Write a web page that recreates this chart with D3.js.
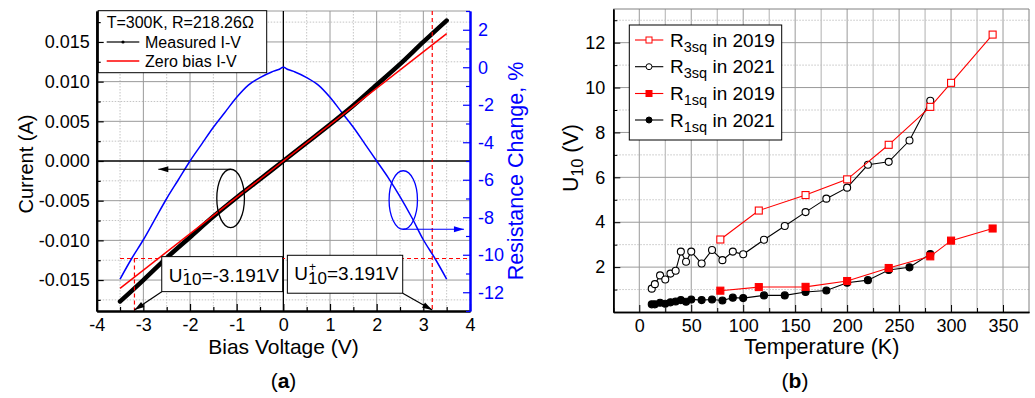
<!DOCTYPE html>
<html><head><meta charset="utf-8">
<script src="https://cdn.jsdelivr.net/npm/d3@7"></script>
<style>
body{margin:0;background:#fff}
svg{display:block}
text{font-family:"Liberation Sans",Arial,sans-serif}
</style>
</head><body>
<svg id="c" width="1035" height="398"></svg>
<script>
// ---------- Panel (a) data ----------
const biasV = [-3.5,-3.25,-3.0,-2.75,-2.5,-2.25,-2.0,-1.75,-1.5,-1.25,-1.0,-0.75,-0.5,-0.25,-0.1,0,0.1,0.25,0.5,0.75,1.0,1.25,1.5,1.75,2.0,2.25,2.5,2.75,3.0,3.25,3.5];
const resChange = [-11.3,-10.2,-9.2,-8.1,-7.0,-6.0,-5.0,-4.1,-3.2,-2.4,-1.6,-0.95,-0.55,-0.25,-0.12,0,-0.12,-0.25,-0.55,-0.95,-1.6,-2.4,-3.2,-4.1,-5.0,-5.9,-6.9,-8.0,-9.2,-10.2,-11.3];
const measV = [-3.5,-3.0,-2.5,-2.0,-1.5,-1.0,-0.5,0,0.5,1.0,1.5,2.0,2.5,3.0,3.5];
const measI = [-0.0177,-0.0150,-0.0122,-0.0096,-0.0070,-0.0046,-0.0023,0,0.0023,0.0046,0.0070,0.0096,0.0122,0.0150,0.0177];
const zeroBiasV = [-3.5,3.5];
const zeroBiasI = [-0.01604,0.01604];
const u10Minus = -3.191, u10Plus = 3.191, u10Level = -10.2;
const leftXTicks = [-4,-3,-2,-1,0,1,2,3,4];
const leftYTicks = [-0.015,-0.010,-0.005,0,0.005,0.010,0.015];
const leftYLabels = ["-0.015","-0.010","-0.005","0.000","0.005","0.010","0.015"];
const rightYTicks = [-12,-10,-8,-6,-4,-2,0,2];

// ---------- Panel (b) data ----------
const t3sq2019 = [78,115,160,200,240,280,300,340];
const u3sq2019 = [3.23,4.52,5.21,5.91,7.45,9.14,10.21,12.36];
const t3sq2021 = [12,15,20,25,30,35,40,45,50,60,70,80,90,100,120,140,160,180,200,220,240,260,280];
const u3sq2021 = [1.04,1.24,1.63,1.45,1.71,1.84,2.69,2.24,2.69,2.16,2.76,2.31,2.69,2.57,3.22,3.83,4.45,5.05,5.54,6.56,6.69,7.64,9.41];
const t1sq2019 = [78,115,160,200,240,280,300,340];
const u1sq2019 = [0.95,1.11,1.12,1.38,1.96,2.48,3.18,3.72];
const t1sq2021 = [12,15,20,25,30,35,40,45,50,60,70,80,90,100,120,140,160,180,200,220,240,260,280];
const u1sq2021 = [0.34,0.34,0.41,0.37,0.43,0.47,0.53,0.46,0.56,0.53,0.56,0.51,0.64,0.62,0.74,0.74,0.89,0.96,1.30,1.42,1.87,1.99,2.58];
const tempTicks = [0,50,100,150,200,250,300,350];
const u10Ticks = [2,4,6,8,10,12];

const svg = d3.select('#c');
const RED = '#ff0000', BLUE = '#0000ff';
const hy = d => String(d).replace('\u2212','-');

function arrow(g, x1, y1, x2, y2, color){
  g.append('line').attr('x1',x1).attr('y1',y1).attr('x2',x2).attr('y2',y2)
    .attr('stroke',color).attr('stroke-width',1.2);
  const a = Math.atan2(y2-y1, x2-x1), L = 10, W = 3;
  const bx = x2 - L*Math.cos(a), by = y2 - L*Math.sin(a);
  const px = -Math.sin(a)*W, py = Math.cos(a)*W;
  g.append('path').attr('d',`M${x2},${y2}L${bx+px},${by+py}L${bx-px},${by-py}Z`).attr('fill',color);
}

// ================= Panel (a) =================
const xL = d3.scaleLinear().domain([-4,4]).range([96.7,470]);
const yL = d3.scaleLinear().domain([-0.0189,0.0189]).range([311,11]);
const yR = d3.scaleLinear().domain([-13,3]).range([311,11]);
const gA = svg.append('g');

// grid
const vMinor = leftXTicks.slice(0,-1).map(v=>v+0.5);
const hMinor = [leftYTicks[0]-0.0025].concat(leftYTicks.map(v=>v+0.0025));
gA.selectAll('.vmn').data(vMinor).join('line').attr('x1',d=>xL(d)).attr('x2',d=>xL(d)).attr('y1',11).attr('y2',311)
  .attr('stroke','#c4c4c4').attr('stroke-dasharray','1.5,1.5');
gA.selectAll('.hmn').data(hMinor).join('line').attr('y1',d=>yL(d)).attr('y2',d=>yL(d)).attr('x1',96.7).attr('x2',470)
  .attr('stroke','#c4c4c4').attr('stroke-dasharray','1.5,1.5');
gA.selectAll('.vmj').data(leftXTicks.filter(v=>v!==0 && Math.abs(v)<4)).join('line').attr('x1',d=>xL(d)).attr('x2',d=>xL(d)).attr('y1',11).attr('y2',311)
  .attr('stroke','#9a9a9a');
gA.selectAll('.hmj').data(leftYTicks.filter(v=>v!==0)).join('line').attr('y1',d=>yL(d)).attr('y2',d=>yL(d)).attr('x1',96.7).attr('x2',470)
  .attr('stroke','#9a9a9a');
gA.append('line').attr('x1',96.7).attr('x2',470).attr('y1',11).attr('y2',11).attr('stroke','#9a9a9a');
// zero lines
gA.append('line').attr('x1',xL(0)).attr('x2',xL(0)).attr('y1',11).attr('y2',311).attr('stroke','#000').attr('stroke-width',1.3);
gA.append('line').attr('x1',96.7).attr('x2',470).attr('y1',yL(0)).attr('y2',yL(0)).attr('stroke','#000').attr('stroke-width',1.3);

// blue resistance curve
gA.append('path').datum(biasV.map((v,i)=>[v,resChange[i]]))
  .attr('d',d3.line().x(d=>xL(d[0])).y(d=>yR(d[1])).curve(d3.curveMonotoneX))
  .attr('fill','none').attr('stroke',BLUE).attr('stroke-width',1.5);
// measured
gA.append('path').datum(measV.map((v,i)=>[v,measI[i]]))
  .attr('d',d3.line().x(d=>xL(d[0])).y(d=>yL(d[1])).curve(d3.curveMonotoneX))
  .attr('fill','none').attr('stroke','#000').attr('stroke-width',4.5).attr('stroke-linecap','round');
// zero bias
gA.append('path').datum(zeroBiasV.map((v,i)=>[v,zeroBiasI[i]]))
  .attr('d',d3.line().x(d=>xL(d[0])).y(d=>yL(d[1])))
  .attr('fill','none').attr('stroke',RED).attr('stroke-width',1.5);

// dashed U10 lines
gA.append('line').attr('x1',xL(u10Plus)).attr('x2',xL(u10Plus)).attr('y1',11).attr('y2',311)
  .attr('stroke',RED).attr('stroke-width',1.2).attr('stroke-dasharray','4,3');
gA.append('line').attr('x1',xL(u10Minus)).attr('x2',xL(u10Minus)).attr('y1',yR(u10Level)).attr('y2',311)
  .attr('stroke',RED).attr('stroke-width',1.2).attr('stroke-dasharray','4,3');
gA.append('line').attr('x1',xL(-3.5)).attr('x2',470).attr('y1',yR(u10Level)).attr('y2',yR(u10Level))
  .attr('stroke',RED).attr('stroke-width',1.2).attr('stroke-dasharray','4,3');

// ellipse + arrow annotations
const e1 = {v:-1.13, i:-0.00472, rv:0.296, ri:0.00368};
gA.append('ellipse').attr('cx',xL(e1.v)).attr('cy',yL(e1.i)).attr('rx',xL(e1.v+e1.rv)-xL(e1.v)).attr('ry',yL(e1.i)-yL(e1.i+e1.ri))
  .attr('fill','none').attr('stroke','#000').attr('stroke-width',1.3);
arrow(gA, xL(e1.v), yL(e1.i+e1.ri), xL(-2.68), yL(e1.i+e1.ri), '#000');
const e2 = {v:2.57, p:-7.08, rv:0.304, rp:1.56};
gA.append('ellipse').attr('cx',xL(e2.v)).attr('cy',yR(e2.p)).attr('rx',xL(e2.v+e2.rv)-xL(e2.v)).attr('ry',yR(e2.p)-yR(e2.p+e2.rp))
  .attr('fill','none').attr('stroke',BLUE).attr('stroke-width',1.3);
arrow(gA, xL(e2.v), yR(e2.p-e2.rp), xL(3.87), yR(e2.p-e2.rp), BLUE);

// U10 boxes
function drawBox(bx0,bx1,by0,by1,sup,rest,arrowFrom,tipX){
  gA.append('rect').attr('x',bx0).attr('y',by0).attr('width',bx1-bx0).attr('height',by1-by0)
    .attr('fill','#fff').attr('stroke','#000').attr('stroke-width',1);
  const tx = bx0+7, ty = by0+25;
  const u = gA.append('text').attr('x',tx).attr('y',ty).attr('font-size',19).text('U');
  const w = u.node().getComputedTextLength();
  gA.append('text').attr('x',tx+w+1).attr('y',ty-9).attr('font-size',12).text(sup);
  const s = gA.append('text').attr('x',tx+w).attr('y',ty+3.5).attr('font-size',17).text('10');
  const ws = s.node().getComputedTextLength();
  gA.append('text').attr('x',tx+w+ws).attr('y',ty).attr('font-size',19).text(rest);
  arrow(gA, arrowFrom, by1, tipX, 310, '#000');
}
drawBox(xL(-2.606), xL(-0.015), yL(-0.01205), yL(-0.01646), '-', '=-3.191V', xL(-2.606), xL(u10Minus));
drawBox(xL(0.086), xL(2.558), yL(-0.01188), yL(-0.01666), '+', '=3.191V', xL(2.558), xL(u10Plus));

// legend (a)
gA.append('rect').attr('x',98.3).attr('y',10.7).attr('width',168.4).attr('height',62).attr('fill','#fff').attr('stroke','#000').attr('stroke-width',1);
gA.append('text').attr('x',106.7).attr('y',28.3).attr('font-size',16).text('T=300K, R=218.26Ω');
gA.append('line').attr('x1',106.7).attr('x2',139.3).attr('y1',42).attr('y2',42).attr('stroke','#333').attr('stroke-width',1.3);
gA.append('circle').attr('cx',123).attr('cy',42).attr('r',1.6).attr('fill','#000');
gA.append('text').attr('x',145).attr('y',47.7).attr('font-size',16).text('Measured I-V');
gA.append('line').attr('x1',106.7).attr('x2',139.3).attr('y1',61).attr('y2',61).attr('stroke',RED).attr('stroke-width',1.5);
gA.append('text').attr('x',145).attr('y',66.7).attr('font-size',16).text('Zero bias I-V');

// axes (a)
const axL = gA.append('g').attr('transform','translate(96.7,0)')
  .call(d3.axisLeft(yL).tickValues(leftYTicks).tickFormat((d,i)=>leftYLabels[i]).tickSize(-7).tickSizeOuter(0).tickPadding(7));
gA.append('g').attr('transform','translate(96.7,0)')
  .call(d3.axisLeft(yL).tickValues(hMinor).tickFormat('').tickSize(-4).tickSizeOuter(0));
const axB = gA.append('g').attr('transform','translate(0,311)')
  .call(d3.axisBottom(xL).tickValues(leftXTicks).tickFormat(hy).tickSize(-7).tickSizeOuter(0).tickPadding(7));
gA.append('g').attr('transform','translate(0,311)')
  .call(d3.axisBottom(xL).tickValues(vMinor).tickFormat('').tickSize(-4).tickSizeOuter(0));
const axR = gA.append('g').attr('class','raxis').attr('transform','translate(470,0)')
  .call(d3.axisRight(yR).tickValues(rightYTicks).tickFormat(hy).tickSize(-7).tickSizeOuter(0).tickPadding(8));
const axR2 = gA.append('g').attr('class','raxis').attr('transform','translate(470,0)')
  .call(d3.axisRight(yR).tickValues(rightYTicks.map(v=>v+1).concat([-13])).tickFormat('').tickSize(-4).tickSizeOuter(0));
gA.selectAll('.domain').attr('stroke-width',2);
[axL,axB].forEach(a=>{a.selectAll('text').attr('font-size',18).attr('fill','#000').attr('font-family','Liberation Sans, Arial, sans-serif');});
axR.selectAll('text').attr('font-size',18).attr('fill',BLUE).attr('font-family','Liberation Sans, Arial, sans-serif');
gA.selectAll('.tick line').attr('stroke-width',1.2);
gA.selectAll('.raxis').selectAll('line,path').attr('stroke',BLUE);

gA.append('text').attr('transform','translate(33,164) rotate(-90)').attr('text-anchor','middle').attr('font-size',20).text('Current (A)');
gA.append('text').attr('x',283.5).attr('y',354).attr('text-anchor','middle').attr('font-size',21).text('Bias Voltage (V)');
gA.append('text').attr('transform','translate(523,171) rotate(-90)').attr('text-anchor','middle').attr('font-size',21.5).attr('fill',BLUE).text('Resistance Change, %');
const la = gA.append('text').attr('x',283.5).attr('y',388).attr('text-anchor','middle').attr('font-size',21).attr('font-family','Liberation Serif, serif');
la.append('tspan').text('(');
la.append('tspan').attr('font-weight','bold').text('a');
la.append('tspan').text(')');

// ================= Panel (b) =================
const xT = d3.scaleLinear().domain([-25,375]).range([613.3,1029]);
const yU = d3.scaleLinear().domain([0,13.5]).range([312,9]);
const gB = svg.append('g');
const tGrid = d3.range(0,351,25);
const uMinor = [1,3,5,7,9,11,13];
gB.selectAll('.vg').data(tGrid).join('line').attr('x1',d=>xT(d)).attr('x2',d=>xT(d)).attr('y1',9).attr('y2',312)
  .attr('stroke',d=>d%50===0?'#9a9a9a':'#b0b0b0');
gB.selectAll('.hmn').data(uMinor).join('line').attr('y1',d=>yU(d)).attr('y2',d=>yU(d)).attr('x1',613.3).attr('x2',1029)
  .attr('stroke','#c4c4c4').attr('stroke-dasharray','1.5,1.5');
gB.selectAll('.hmj').data(u10Ticks).join('line').attr('y1',d=>yU(d)).attr('y2',d=>yU(d)).attr('x1',613.3).attr('x2',1029)
  .attr('stroke','#9a9a9a');
gB.append('line').attr('x1',613.3).attr('x2',1029).attr('y1',9).attr('y2',9).attr('stroke','#808080');
gB.append('line').attr('x1',1029).attr('x2',1029).attr('y1',9).attr('y2',312).attr('stroke','#808080');

function series(ts, us, color, shape, filled){
  gB.append('path').datum(ts.map((t,i)=>[t,us[i]]))
    .attr('d',d3.line().x(d=>xT(d[0])).y(d=>yU(d[1])))
    .attr('fill','none').attr('stroke',color).attr('stroke-width',1.1);
  const pts = ts.map((t,i)=>[t,us[i]]);
  if(shape==='sq'){
    gB.selectAll(null).data(pts).join('rect').attr('x',d=>xT(d[0])-3.5).attr('y',d=>yU(d[1])-3.5).attr('width',7).attr('height',7)
      .attr('fill',filled?color:'#fff').attr('stroke',color).attr('stroke-width',1.1);
  } else {
    gB.selectAll(null).data(pts).join('circle').attr('cx',d=>xT(d[0])).attr('cy',d=>yU(d[1])).attr('r',3.5)
      .attr('fill',filled?color:'#fff').attr('stroke',color).attr('stroke-width',1.1);
  }
}
series(t3sq2021,u3sq2021,'#000','ci',false);
series(t3sq2019,u3sq2019,RED,'sq',false);
series(t1sq2021,u1sq2021,'#000','ci',true);
series(t1sq2019,u1sq2019,RED,'sq',true);

// axes (b)
const bL = gB.append('g').attr('transform','translate(613.3,0)')
  .call(d3.axisLeft(yU).tickValues(u10Ticks).tickSize(-7).tickSizeOuter(0).tickPadding(8));
gB.append('g').attr('transform','translate(613.3,0)')
  .call(d3.axisLeft(yU).tickValues(uMinor).tickFormat('').tickSize(-4).tickSizeOuter(0));
const bB = gB.append('g').attr('transform','translate(0,312)')
  .call(d3.axisBottom(xT).tickValues(tempTicks).tickSize(-7).tickSizeOuter(0).tickPadding(7));
gB.append('g').attr('transform','translate(0,312)')
  .call(d3.axisBottom(xT).tickValues(tempTicks.map(v=>v+25).slice(0,-1).concat([-25+0.001])).tickFormat('').tickSize(-4).tickSizeOuter(0));
gB.selectAll('.domain').attr('stroke-width',1.6);
[bL,bB].forEach(a=>a.selectAll('text').attr('font-size',18).attr('fill','#000').attr('font-family','Liberation Sans, Arial, sans-serif'));

const ut = gB.append('text').attr('transform','translate(578,158) rotate(-90)').attr('text-anchor','middle').attr('font-size',21.5);
ut.append('tspan').text('U');
ut.append('tspan').attr('dy',5).attr('font-size',16).text('10');
ut.append('tspan').attr('dy',-5).text(' (V)');
gB.append('text').attr('x',821.7).attr('y',354).attr('text-anchor','middle').attr('font-size',21.5).text('Temperature (K)');
const lb = gB.append('text').attr('x',795).attr('y',388).attr('text-anchor','middle').attr('font-size',21).attr('font-family','Liberation Serif, serif');
lb.append('tspan').text('(');
lb.append('tspan').attr('font-weight','bold').text('b');
lb.append('tspan').text(')');

// legend (b)
gB.append('rect').attr('x',629.3).attr('y',25).attr('width',152.4).attr('height',115).attr('fill','#fff').attr('stroke','#000').attr('stroke-width',1);
const legRows = [
  {sub:'3sq', yr:'2019', color:RED, shape:'sq', filled:false},
  {sub:'3sq', yr:'2021', color:'#000', shape:'ci', filled:false},
  {sub:'1sq', yr:'2019', color:RED, shape:'sq', filled:true},
  {sub:'1sq', yr:'2021', color:'#000', shape:'ci', filled:true}
];
const legY = [40,66.7,93.5,120];
legRows.forEach((r,i)=>{
  const y = legY[i];
  gB.append('line').attr('x1',635).attr('x2',663.3).attr('y1',y).attr('y2',y).attr('stroke',r.color).attr('stroke-width',1.1);
  if(r.shape==='sq') gB.append('rect').attr('x',649-3).attr('y',y-3).attr('width',6).attr('height',6).attr('fill',r.filled?r.color:'#fff').attr('stroke',r.color);
  else gB.append('circle').attr('cx',649).attr('cy',y).attr('r',3).attr('fill',r.filled?r.color:'#fff').attr('stroke',r.color);
  const t = gB.append('text').attr('x',670).attr('y',y+6.5).attr('font-size',19);
  t.append('tspan').text('R');
  t.append('tspan').attr('dy',5).attr('font-size',14.5).text(r.sub);
  t.append('tspan').attr('dy',-5).text(' in '+r.yr);
});
</script>
</body></html>
